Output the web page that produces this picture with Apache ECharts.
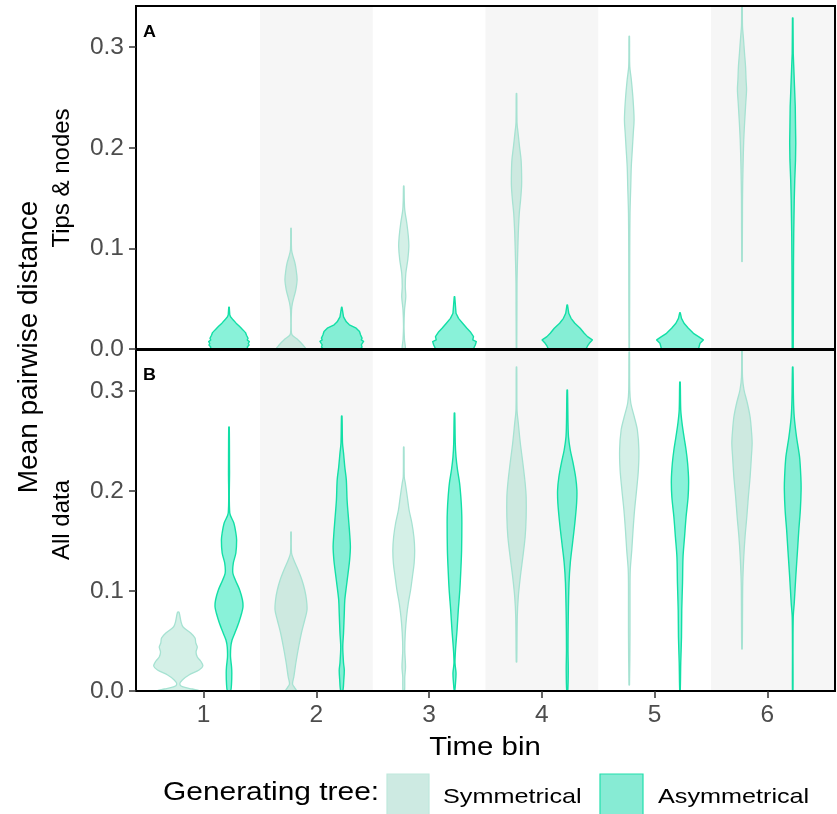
<!DOCTYPE html>
<html>
<head>
<meta charset="utf-8">
<script src="https://cdn.jsdelivr.net/npm/echarts@6/dist/echarts.min.js"></script>
<style>
  html, body { margin: 0; padding: 0; background: #ffffff; }
  #chart { width: 837px; height: 814px; }
</style>
</head>
<body>
<div id="chart"></div>
<script>
// Time bins on the x axis and the two generating-tree groups
const bins = [1, 2, 3, 4, 5, 6];
const groups = ['Symmetrical', 'Asymmetrical'];
const panelTitles = ['Tips & nodes', 'All data'];
const panelLetters = ['A', 'B'];
const yTicks = [0, 0.1, 0.2, 0.3];
const shadedBins = [2, 4, 6];

// Violin density profiles per time bin: [mean pairwise distance, relative width], top to bottom
const tipsSym = [
  null,
  [[0.120,0.01],[0.099,0.02],[0.092,0.08],[0.086,0.15],[0.079,0.20],[0.069,0.24],[0.059,0.19],[0.052,0.12],[0.046,0.06],[0.039,0.02],[0.019,0.01],[0.014,0.04],[0.009,0.28],[0.004,0.47],[0,0.57]],
  [[0.162,0.01],[0.148,0.02],[0.138,0.04],[0.125,0.12],[0.112,0.18],[0.102,0.20],[0.089,0.16],[0.075,0.08],[0.062,0.06],[0.052,0.08],[0.039,0.03],[0.022,0.01],[0.009,0.03],[0,0.06]],
  [[0.254,0.01],[0.225,0.02],[0.215,0.06],[0.201,0.12],[0.188,0.18],[0.175,0.20],[0.162,0.20],[0.148,0.16],[0.135,0.11],[0.115,0.07],[0.089,0.04],[0.065,0.02],[0,0.01]],
  [[0.311,0.01],[0.281,0.02],[0.268,0.08],[0.248,0.15],[0.228,0.19],[0.215,0.16],[0.198,0.12],[0.181,0.08],[0.162,0.06],[0.135,0.03],[0.095,0.02],[0,0.01]],
  [[0.345,0.01],[0.321,0.02],[0.308,0.06],[0.294,0.10],[0.281,0.14],[0.268,0.16],[0.258,0.18],[0.245,0.15],[0.228,0.11],[0.208,0.07],[0.181,0.04],[0.148,0.02],[0.087,0.01]]
];
const tipsAsym = [
  [[0.0415,0.01],[0.034,0.03],[0.032,0.06],[0.029,0.16],[0.0257,0.28],[0.0223,0.42],[0.019,0.55],[0.0163,0.65],[0.0137,0.69],[0.0107,0.75],[0.009,0.72],[0.0073,0.80],[0.0055,0.76],[0.004,0.79],[0.002,0.72],[0,0.74]],
  [[0.0415,0.01],[0.032,0.07],[0.027,0.18],[0.024,0.30],[0.0207,0.57],[0.0174,0.70],[0.0141,0.74],[0.0108,0.80],[0.009,0.77],[0.0075,0.86],[0.0042,0.77],[0.002,0.80],[0,0.73]],
  [[0.052,0.01],[0.0355,0.06],[0.0305,0.16],[0.0256,0.32],[0.0206,0.49],[0.0172,0.62],[0.0123,0.75],[0.009,0.72],[0.0073,0.86],[0.004,0.82],[0.002,0.78],[0,0.75]],
  [[0.0438,0.01],[0.0355,0.06],[0.0305,0.15],[0.0256,0.30],[0.0206,0.51],[0.0156,0.67],[0.0123,0.80],[0.009,0.99],[0.0057,0.87],[0.003,0.80],[0,0.74]],
  [[0.0361,0.01],[0.0305,0.06],[0.0256,0.16],[0.0206,0.33],[0.0156,0.53],[0.0123,0.73],[0.009,0.92],[0.0057,0.79],[0.003,0.76],[0,0.73]],
  [[0.329,0.01],[0.294,0.02],[0.281,0.04],[0.261,0.07],[0.241,0.10],[0.221,0.11],[0.205,0.12],[0.188,0.11],[0.168,0.08],[0.148,0.06],[0.115,0.04],[0.082,0.03],[0,0.02]]
];
const allSym = [
  [[0.0787,0.03],[0.069,0.11],[0.064,0.19],[0.058,0.49],[0.053,0.66],[0.048,0.69],[0.044,0.75],[0.039,0.70],[0.034,0.75],[0.030,0.88],[0.025,0.97],[0.021,0.82],[0.016,0.42],[0.011,0.16],[0.007,0.06],[0.0043,0.16],[0.002,0.55],[0,0.86]],
  [[0.159,0.01],[0.138,0.02],[0.131,0.11],[0.121,0.28],[0.111,0.43],[0.101,0.54],[0.091,0.61],[0.081,0.63],[0.071,0.54],[0.058,0.41],[0.044,0.30],[0.028,0.19],[0.014,0.11],[0.007,0.06],[0.003,0.15],[0,0.21]],
  [[0.244,0.01],[0.214,0.02],[0.208,0.06],[0.194,0.14],[0.181,0.21],[0.168,0.32],[0.154,0.40],[0.141,0.43],[0.128,0.41],[0.114,0.34],[0.101,0.27],[0.088,0.18],[0.074,0.11],[0.058,0.06],[0.041,0.04],[0.024,0.07],[0.014,0.04],[0,0.03]],
  [[0.324,0.01],[0.281,0.02],[0.268,0.07],[0.248,0.15],[0.228,0.25],[0.208,0.34],[0.194,0.38],[0.174,0.38],[0.154,0.34],[0.134,0.25],[0.114,0.15],[0.094,0.07],[0.074,0.03],[0.029,0.01]],
  [[0.339,0.01],[0.301,0.02],[0.288,0.06],[0.274,0.20],[0.261,0.32],[0.241,0.38],[0.221,0.36],[0.201,0.29],[0.181,0.21],[0.161,0.15],[0.141,0.10],[0.121,0.04],[0.101,0.03],[0.058,0.03],[0.006,0.01]],
  [[0.345,0.01],[0.314,0.02],[0.301,0.08],[0.288,0.21],[0.274,0.32],[0.261,0.37],[0.248,0.40],[0.234,0.37],[0.214,0.32],[0.194,0.25],[0.174,0.19],[0.154,0.12],[0.134,0.07],[0.108,0.03],[0.074,0.02],[0.042,0.01]]
];
const allAsym = [
  [[0.264,0.01],[0.22,0.02],[0.178,0.03],[0.168,0.19],[0.158,0.27],[0.151,0.30],[0.138,0.27],[0.128,0.17],[0.118,0.15],[0.111,0.25],[0.101,0.42],[0.091,0.53],[0.084,0.55],[0.078,0.50],[0.068,0.38],[0.058,0.23],[0.051,0.12],[0.044,0.07],[0.034,0.06],[0.024,0.10],[0.018,0.11],[0.008,0.10],[0,0.06]],
  [[0.275,0.01],[0.248,0.03],[0.238,0.07],[0.224,0.12],[0.211,0.18],[0.191,0.21],[0.171,0.27],[0.158,0.31],[0.144,0.34],[0.131,0.31],[0.118,0.25],[0.104,0.18],[0.091,0.12],[0.078,0.10],[0.058,0.07],[0.044,0.04],[0.028,0.07],[0.021,0.10],[0.011,0.08],[0,0.04]],
  [[0.278,0.01],[0.248,0.03],[0.234,0.06],[0.221,0.12],[0.208,0.20],[0.194,0.25],[0.181,0.28],[0.168,0.29],[0.141,0.28],[0.121,0.25],[0.101,0.21],[0.081,0.15],[0.061,0.10],[0.041,0.04],[0.028,0.02],[0.018,0.06],[0.008,0.04],[0,0.01]],
  [[0.301,0.01],[0.268,0.03],[0.254,0.05],[0.241,0.12],[0.228,0.23],[0.214,0.33],[0.201,0.38],[0.188,0.37],[0.168,0.30],[0.148,0.21],[0.128,0.12],[0.108,0.07],[0.074,0.04],[0.041,0.03],[0.021,0.04],[0,0.02]],
  [[0.309,0.01],[0.281,0.03],[0.268,0.08],[0.254,0.16],[0.241,0.24],[0.228,0.30],[0.211,0.34],[0.194,0.32],[0.174,0.24],[0.154,0.18],[0.134,0.12],[0.108,0.10],[0.081,0.07],[0.054,0.06],[0.028,0.03],[0,0.01]],
  [[0.324,0.01],[0.291,0.03],[0.274,0.06],[0.254,0.15],[0.234,0.27],[0.214,0.32],[0.201,0.33],[0.181,0.30],[0.161,0.24],[0.141,0.19],[0.114,0.12],[0.088,0.06],[0.074,0.02],[0.041,0.01],[0,0.01]]
];

// Geometry in axis units
const X_MIN = 0.4, X_MAX = 6.6, Y_MAX = 0.341;
const DODGE = 0.225;     // offset of each group from the bin centre
const HALF = 0.225;      // half-width of a violin at relative width 1

const FONT = '"Liberation Sans", Arial, Helvetica, sans-serif';
const styles = {
  Symmetrical:  { fill: 'rgba(100,200,170,0.28)', stroke: '#a6e2d2', lineWidth: 1.3 },
  Asymmetrical: { fill: 'rgba(20,230,180,0.50)', stroke: '#12dfa6', lineWidth: 1.4 }
};

const chart = echarts.init(document.getElementById('chart'), null, { renderer: 'canvas' });

function bandRender(params, api) {
  const p0 = api.coord([api.value(0), Y_MAX]);
  const p1 = api.coord([api.value(1), 0]);
  return {
    type: 'rect',
    shape: { x: p0[0], y: p0[1], width: p1[0] - p0[0], height: p1[1] - p0[1] },
    style: { fill: '#f6f6f6' }
  };
}

function violinRender(profiles, offset, style, smooth) {
  return function (params, api) {
    const prof = profiles[params.dataIndex];
    if (!prof) return null;
    const cx = api.value(0) + offset;
    const right = prof.map(p => api.coord([cx + p[1] * HALF, p[0]]));
    const left = prof.slice().reverse().map(p => api.coord([cx - p[1] * HALF, p[0]]));
    return {
      type: 'polygon',
      shape: { points: right.concat(left), smooth: smooth },
      style: { fill: style.fill, stroke: style.stroke, lineWidth: style.lineWidth, lineJoin: 'round' }
    };
  };
}

const bandData = shadedBins.map(b => [b - 0.5, b === bins[bins.length - 1] ? X_MAX : b + 0.5]);
const binData = bins.map(b => [b, 0]);

const panelData = [
  { sym: tipsSym, asym: tipsAsym, asymSmooth: 0 },
  { sym: allSym, asym: allAsym, asymSmooth: 0.3 }
];

const series = [];
panelData.forEach((pd, i) => {
  series.push({
    type: 'custom', xAxisIndex: i, yAxisIndex: i, z: 1, clip: true,
    silent: true, data: bandData, renderItem: bandRender
  });
  series.push({
    name: groups[0], type: 'custom', xAxisIndex: i, yAxisIndex: i, z: 2, clip: true,
    silent: true, data: binData, renderItem: violinRender(pd.sym, -DODGE, styles.Symmetrical, 0.3)
  });
  series.push({
    name: groups[1], type: 'custom', xAxisIndex: i, yAxisIndex: i, z: 3, clip: true,
    silent: true, data: binData, renderItem: violinRender(pd.asym, DODGE, styles.Asymmetrical, pd.asymSmooth)
  });
});

const tickLabel = { color: '#4d4d4d', fontSize: 24.5, fontFamily: FONT };
const tickLine = { color: '#333333', width: 1.5 };

function yAxis(i) {
  return {
    gridIndex: i, type: 'value', min: 0, max: Y_MAX, z: 6,
    axisLine: { show: true, lineStyle: { color: '#000', width: 2 } },
    axisTick: { show: true, length: 7, customValues: yTicks, lineStyle: tickLine },
    axisLabel: Object.assign({ customValues: yTicks, margin: 12, formatter: v => v.toFixed(1) }, tickLabel),
    splitLine: { show: false }
  };
}

const grids = [
  { left: 136, top: 6, width: 699, height: 343 },
  { left: 136, top: 350, width: 699, height: 341 }
].map(g => Object.assign(g, { show: true, z: 5, borderColor: '#000', borderWidth: 2, backgroundColor: 'transparent' }));

function txt(text, x, y, size, opts) {
  opts = opts || {};
  return {
    type: 'text', x: x, y: y, rotation: opts.rotation || 0, scaleX: opts.scaleX || 1, z: 10,
    style: {
      text: text, fontSize: size, fontFamily: FONT, fontWeight: opts.bold ? 'bold' : 'normal',
      fill: opts.color || '#000', align: opts.align || 'center', verticalAlign: 'middle'
    }
  };
}

const graphic = [
  txt(panelLetters[0], 143, 33, 16, { bold: true, align: 'left', scaleX: 1.12 }),
  txt(panelLetters[1], 143, 376, 16, { bold: true, align: 'left', scaleX: 1.12 }),
  txt('Mean pairwise distance', 29, 347, 28, { rotation: Math.PI / 2 }),
  txt(panelTitles[0], 62, 178, 24, { rotation: Math.PI / 2 }),
  txt(panelTitles[1], 62, 520, 24, { rotation: Math.PI / 2 }),
  txt('Time bin', 485, 748, 26, { scaleX: 1.13 }),
  txt('Generating tree:', 163, 793, 26, { align: 'left', scaleX: 1.15 }),
  { type: 'rect', shape: { x: 387, y: 774, width: 42, height: 46 }, z: 10,
    style: { fill: '#cdeae2', stroke: '#bfe8dc', lineWidth: 1.2 } },
  txt(groups[0], 443, 797, 21, { align: 'left', scaleX: 1.2 }),
  { type: 'rect', shape: { x: 600, y: 774, width: 43, height: 46 }, z: 10,
    style: { fill: '#87ebd4', stroke: '#22dfac', lineWidth: 1.2 } },
  txt(groups[1], 658, 797, 21, { align: 'left', scaleX: 1.2 })
];

chart.setOption({
  animation: false,
  backgroundColor: '#ffffff',
  grid: grids,
  xAxis: [
    { gridIndex: 0, type: 'value', min: X_MIN, max: X_MAX, show: false, splitLine: { show: false } },
    {
      gridIndex: 1, type: 'value', min: X_MIN, max: X_MAX, z: 6,
      axisLine: { show: true, lineStyle: { color: '#000', width: 2 } },
      axisTick: { show: true, length: 7, customValues: bins, lineStyle: tickLine },
      axisLabel: Object.assign({ customValues: bins, margin: 12 }, tickLabel),
      splitLine: { show: false }
    }
  ],
  yAxis: [yAxis(0), yAxis(1)],
  series: series,
  graphic: graphic
});
</script>
</body>
</html>
